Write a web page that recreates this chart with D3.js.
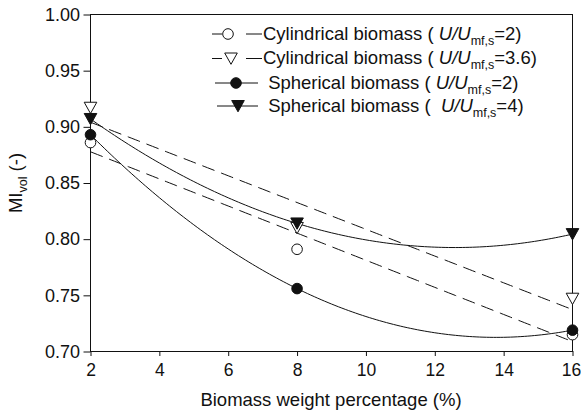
<!DOCTYPE html>
<html><head><meta charset="utf-8">
<script src="https://cdn.jsdelivr.net/npm/d3@7"></script>
<style>
html,body{margin:0;padding:0;background:#fff;}
text{font-family:Arial,"Liberation Sans",Helvetica,sans-serif;fill:#111;}
</style></head>
<body>
<svg id="chart" width="581" height="414"></svg>
<script>
// ---- data ----
const xValues = [2, 8, 16];
const cylU2   = [0.886, 0.791, 0.715];
const cylU36  = [0.917, 0.810, 0.747];
const sphU2   = [0.893, 0.756, 0.719];
const sphU4   = [0.907, 0.814, 0.8045];
const xTicks = [2, 4, 6, 8, 10, 12, 14, 16];
const yTicks = [0.70, 0.75, 0.80, 0.85, 0.90, 0.95, 1.00];
const legendLabels = [
  {pre: "Cylindrical biomass ( ", val: "=2)"},
  {pre: "Cylindrical biomass ( ", val: "=3.6)"},
  {pre: " Spherical biomass ( ", val: "=2)"},
  {pre: " Spherical biomass (  ", val: "=4)"}
];

const svg = d3.select("#chart");
const x = d3.scaleLinear().domain([2, 16]).range([90.5, 572.5]);
const y = d3.scaleLinear().domain([0.70, 1.00]).range([351.5, 14.5]);

// fits
function linFit(xs, ys) {
  const mx = d3.mean(xs), my = d3.mean(ys);
  let sxy = 0, sxx = 0;
  xs.forEach((v, i) => { sxy += (v - mx) * (ys[i] - my); sxx += (v - mx) * (v - mx); });
  const b = sxy / sxx, a = my - b * mx;
  return t => a + b * t;
}
function quadFit(xs, ys) {
  return t => {
    let s = 0;
    for (let i = 0; i < 3; i++) {
      let l = 1;
      for (let j = 0; j < 3; j++) if (j !== i) l *= (t - xs[j]) / (xs[i] - xs[j]);
      s += ys[i] * l;
    }
    return s;
  };
}
const samples = d3.range(0, 141).map(i => 2 + i * 0.1);
const line = d3.line().x(d => x(d[0])).y(d => y(d[1]));

const series = [
  {vals: cylU2,  fit: linFit,  dash: "13,7", shape: "circle",   fill: "#fff"},
  {vals: cylU36, fit: linFit,  dash: "13,7", shape: "triangle", fill: "#fff"},
  {vals: sphU2,  fit: quadFit, dash: null,   shape: "circle",   fill: "#111"},
  {vals: sphU4,  fit: quadFit, dash: null,   shape: "triangle", fill: "#111"}
];

// axes
const yAxis = d3.axisLeft(y).tickValues(yTicks).tickFormat(d3.format(".2f")).tickSize(7).tickPadding(3);
const xAxis = d3.axisBottom(x).tickValues(xTicks).tickFormat(d3.format("d")).tickSize(5).tickPadding(8);
const gy = svg.append("g").attr("transform", "translate(90,0)").call(yAxis);
gy.select(".domain").remove();
const gx = svg.append("g").attr("transform", "translate(0,351)").call(xAxis);
gx.select(".domain").remove();
[gx, gy].forEach(g => {
  g.selectAll("line").attr("stroke", "#111");
  g.selectAll("text").attr("font-size", 18).attr("fill", "#111")
    .style("font-family", "Arial, 'Liberation Sans', sans-serif");
});
gx.selectAll("text").attr("font-size", 17.5);
gx.selectAll(".tick").filter(d => d === 16).select("text").attr("dx", -1.5);
gy.selectAll(".tick line").attr("transform", "translate(0.5,0)");
// frame
svg.append("rect").attr("x", x(2)).attr("y", y(1.0))
  .attr("width", x(16) - x(2)).attr("height", y(0.70) - y(1.0))
  .attr("fill", "none").attr("stroke", "#111").attr("stroke-width", 1);

// curves
series.forEach(s => {
  const f = s.fit(xValues, s.vals);
  svg.append("path").datum(samples.map(t => [t, f(t)]))
    .attr("d", line).attr("fill", "none").attr("stroke", "#111").attr("stroke-width", 1)
    .attr("stroke-dasharray", s.dash);
});

// markers
function drawMarker(g, shape, cx, cy, fill) {
  if (shape === "circle") {
    g.append("circle").attr("cx", cx).attr("cy", cy).attr("r", 5.3)
      .attr("fill", fill).attr("stroke", "#111").attr("stroke-width", 1);
  } else {
    g.append("path").attr("d", `M${cx - 6.3},${cy - 5.5}L${cx + 6.3},${cy - 5.5}L${cx},${cy + 5.8}Z`)
      .attr("fill", fill).attr("stroke", "#111").attr("stroke-width", 1);
  }
}
series.forEach(s => {
  xValues.forEach((xv, i) => drawMarker(svg, s.shape, x(xv), y(s.vals[i]), s.fill));
});

// legend
const legRows = [
  {my: 34, base: 39.5, lx0: 212, lx1: 262, mx: 228},
  {my: 58.5, base: 63.5, lx0: 212, lx1: 262, mx: 231},
  {my: 83, base: 89, lx0: 215, lx1: 258, mx: 236},
  {my: 106, base: 112, lx0: 217, lx1: 258, mx: 238}
];
series.forEach((s, i) => {
  const r = legRows[i];
  const g = svg.append("g");
  g.append("line").attr("x1", r.lx0).attr("x2", r.lx1).attr("y1", r.my).attr("y2", r.my)
    .attr("stroke", "#111").attr("stroke-width", 1)
    .attr("stroke-dasharray", s.dash ? "10,24,16" : null);
  drawMarker(g, s.shape, r.mx, r.my, s.fill);
  const t = g.append("text").attr("x", 263).attr("y", r.base).attr("font-size", 18.5)
    .attr("xml:space", "preserve").style("white-space", "pre");
  t.append("tspan").text(legendLabels[i].pre);
  t.append("tspan").attr("font-style", "italic").text("U/U");
  t.append("tspan").attr("font-size", 12.5).attr("dy", 5).text("mf,s");
  t.append("tspan").attr("dy", -5).text(legendLabels[i].val);
});

// axis titles
svg.append("text").attr("x", 331).attr("y", 406).attr("text-anchor", "middle")
  .attr("font-size", 18.5).text("Biomass weight percentage (%)");
const yt = svg.append("text").attr("transform", "translate(22,183) rotate(-90)")
  .attr("text-anchor", "middle").attr("font-size", 18.5);
yt.append("tspan").text("MI");
yt.append("tspan").attr("font-size", 12.5).attr("dy", 5).text("vol");
yt.append("tspan").attr("dy", -5).text(" (-)");
</script>
</body></html>
